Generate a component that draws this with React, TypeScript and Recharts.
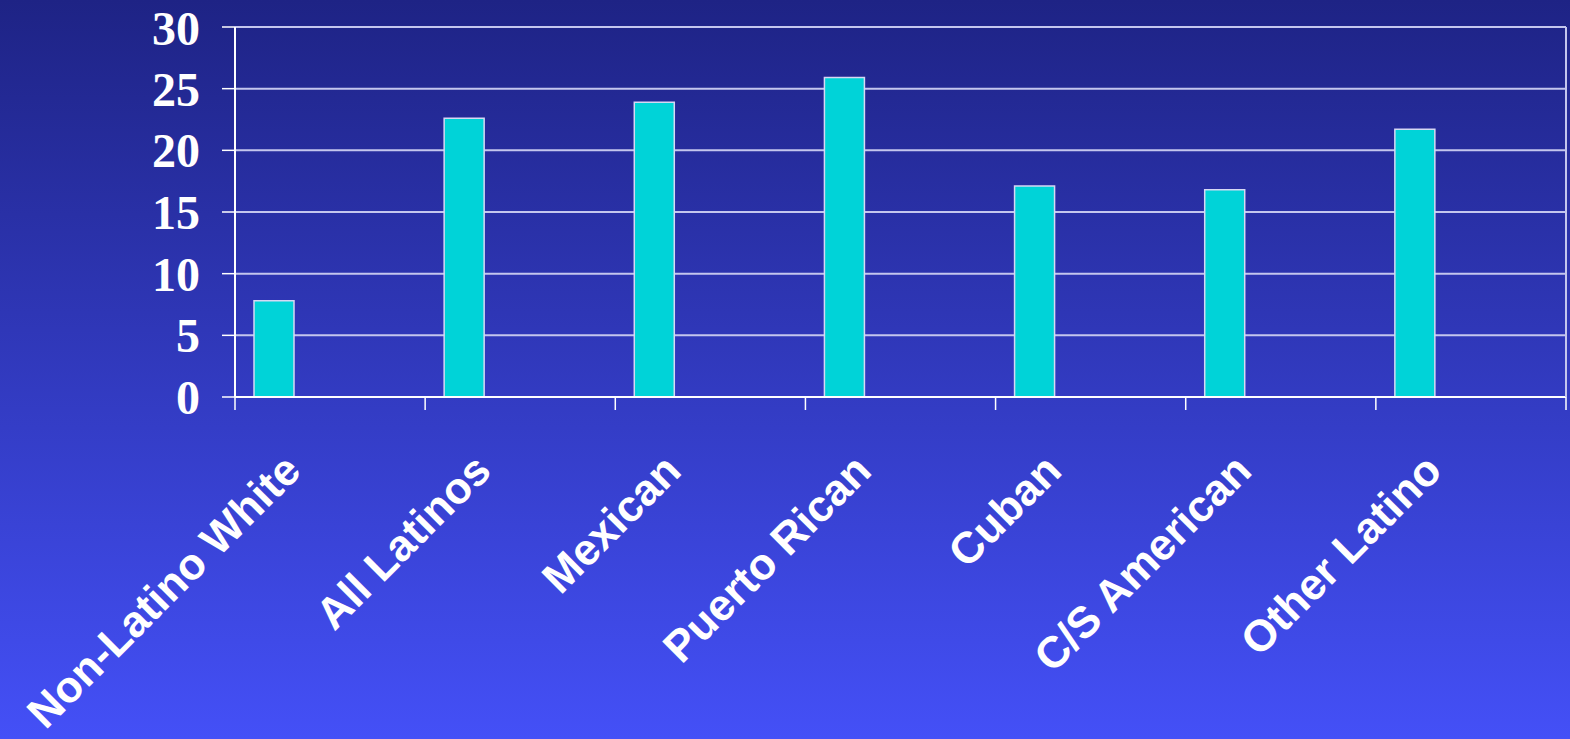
import { BarChart, Bar, XAxis, YAxis, CartesianGrid } from 'recharts';

const categories = ['Non-Latino White', 'All Latinos', 'Mexican', 'Puerto Rican', 'Cuban', 'C/S American', 'Other Latino'];
const rates = [7.8, 22.6, 23.9, 25.9, 17.1, 16.8, 21.7];
// second series of the original chart is empty, it only holds its slot in each group
const emptySeries = [null, null, null, null, null, null, null];
const yTicks = [0, 5, 10, 15, 20, 25, 30];

const data = categories.map((name, i) => ({ name, rate: rates[i], empty: emptySeries[i] }));

const CategoryTick = (props: any) => {
  const { x, y, payload, index } = props;
  const half = payload?.offset ?? 95;
  return (
    <g>
      <line x1={x - half} x2={x - half} y1={y} y2={y + 13} stroke="#ffffff" strokeWidth={1.5} />
      {index === categories.length - 1 && (
        <line x1={x + half} x2={x + half} y1={y} y2={y + 13} stroke="#ffffff" strokeWidth={1.5} />
      )}
      <text
        transform={`translate(${x - 27},${y + 76}) rotate(-45)`}
        textAnchor="end"
        fill="#ffffff"
        fontFamily="'Liberation Sans', Arial, sans-serif"
        fontWeight="bold"
        fontSize={44}
      >
        {payload.value}
      </text>
    </g>
  );
};

export default function App() {
  return (
    <div
      style={{
        position: 'absolute',
        left: 0,
        top: 0,
        width: 1570,
        height: 739,
        background: 'linear-gradient(to bottom, #1e2385, #4450f7)',
      }}
    >
      <BarChart
        width={1570}
        height={739}
        data={data}
        margin={{ top: 27, right: 0, bottom: 0, left: 0 }}
        barSize={40}
        barGap={73}
      >
        <CartesianGrid vertical={false} stroke="#c4c6ee" strokeWidth={2} />
        <XAxis
          dataKey="name"
          interval={0}
          tickLine={false}
          tickSize={0}
          tickMargin={0}
          axisLine={{ stroke: '#ffffff', strokeWidth: 2 }}
          tick={<CategoryTick />}
          height={342}
        />
        <YAxis
          domain={[0, 30]}
          ticks={yTicks}
          width={235}
          tickSize={13}
          tickMargin={22}
          axisLine={{ stroke: '#ffffff', strokeWidth: 2 }}
          tickLine={{ stroke: '#ffffff', strokeWidth: 1.5 }}
          tick={{ fill: '#ffffff', fontFamily: "'Liberation Serif', 'Times New Roman', serif", fontWeight: 'bold', fontSize: 48 }}
        />
        <YAxis
          yAxisId="frame"
          orientation="right"
          domain={[0, 30]}
          width={4}
          tick={false}
          tickLine={false}
          axisLine={{ stroke: '#c4c6ee', strokeWidth: 2 }}
        />
        <Bar dataKey="rate" fill="#00d3d8" stroke="#d6d8f4" strokeWidth={1.5} isAnimationActive={false} />
        <Bar dataKey="empty" fill="#00d3d8" isAnimationActive={false} />
      </BarChart>
    </div>
  );
}
